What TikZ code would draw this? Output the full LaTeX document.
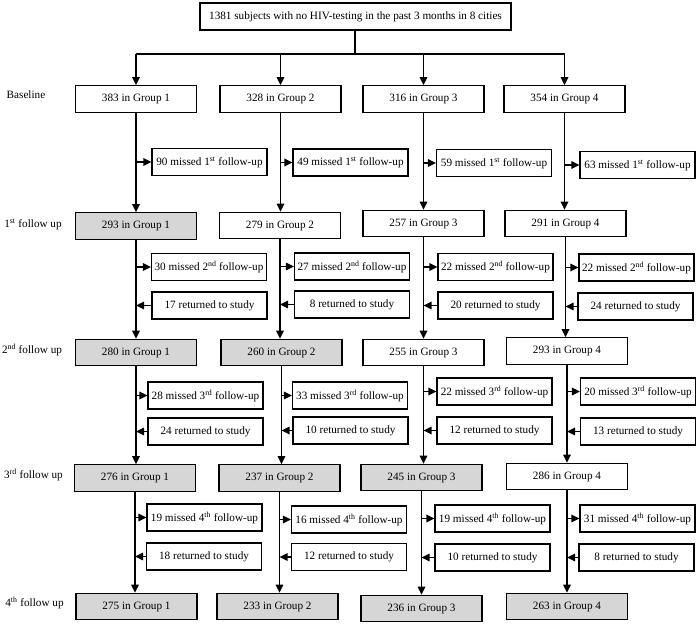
\documentclass[tikz,border=0pt]{standalone}
\usepackage{fontspec}
\setmainfont{Liberation Serif}
\usetikzlibrary{arrows.meta}
\definecolor{boxgrey}{RGB}{214,214,214}
\begin{document}
\begin{tikzpicture}[x=1pt,y=-1pt,
  font=\fontsize{11.2pt}{13pt}\selectfont,
  gbox/.style={draw, line width=1.2pt, inner sep=0pt, minimum width=121pt, minimum height=26.5pt},
  sbox/.style={draw, line width=1.2pt, inner sep=0pt, minimum width=115pt, minimum height=27pt},
  gfill/.style={gbox, fill=boxgrey},
  conn/.style={line width=1.6pt},
  arr/.style={line width=1.6pt, -{Triangle[length=8pt,width=7.5pt]}},
  lab/.style={inner sep=0pt}]
\useasboundingbox (0,0) rectangle (700,626);
% top
\node[draw, line width=1.2pt, inner sep=0pt, minimum width=311pt, minimum height=27pt] (top) at (355.5,16.5) {1381 subjects with no HIV-testing in the past 3 months in 8 cities};
% left labels
\node[lab] (l0) at (26,95) {Baseline};
\node[lab] (l1) at (33,224) {1\textsuperscript{st} follow up};
\node[lab] (l2) at (32,350) {2\textsuperscript{nd} follow up};
\node[lab] (l3) at (33.5,475) {3\textsuperscript{rd} follow up};
\node[lab] (l4) at (34.5,603) {4\textsuperscript{th} follow up};
% baseline
\node[gbox] (b1) at (136,99) {383 in Group 1};
\node[gbox] (b2) at (280.5,99) {328 in Group 2};
\node[gbox] (b3) at (423.5,99) {316 in Group 3};
\node[gbox] (b4) at (564.5,99) {354 in Group 4};
% missed 1st
\node[sbox] (m11) at (209.5,162) {90 missed 1\textsuperscript{st} follow-up};
\node[sbox] (m12) at (350.5,162.5) {49 missed 1\textsuperscript{st} follow-up};
\node[sbox] (m13) at (494,163) {59 missed 1\textsuperscript{st} follow-up};
\node[sbox] (m14) at (637.5,165) {63 missed 1\textsuperscript{st} follow-up};
% 1st FU
\node[gfill] (f11) at (136,226) {293 in Group 1};
\node[gbox] (f12) at (280,225.5) {279 in Group 2};
\node[gbox] (f13) at (423.5,223.5) {257 in Group 3};
\node[gbox] (f14) at (565.5,223.5) {291 in Group 4};
% missed 2nd
\node[sbox] (m21) at (209,267) {30 missed 2\textsuperscript{nd} follow-up};
\node[sbox] (m22) at (352,266.5) {27 missed 2\textsuperscript{nd} follow-up};
\node[sbox] (m23) at (495.5,267) {22 missed 2\textsuperscript{nd} follow-up};
\node[sbox] (m24) at (636.5,267.5) {22 missed 2\textsuperscript{nd} follow-up};
% returned 2nd
\node[sbox] (r21) at (209.5,305.5) {17 returned to study};
\node[sbox] (r22) at (352,304.5) {8 returned to study};
\node[sbox] (r23) at (495.5,305.5) {20 returned to study};
\node[sbox] (r24) at (635.5,306.5) {24 returned to study};
% 2nd FU
\node[gfill] (f21) at (136,352.5) {280 in Group 1};
\node[gfill] (f22) at (281.5,352.5) {260 in Group 2};
\node[gbox] (f23) at (423.5,352.5) {255 in Group 3};
\node[gbox] (f24) at (567,351) {293 in Group 4};
% missed 3rd
\node[sbox] (m31) at (205.5,395.5) {28 missed 3\textsuperscript{rd} follow-up};
\node[sbox] (m32) at (350,395.5) {33 missed 3\textsuperscript{rd} follow-up};
\node[sbox] (m33) at (494.5,391.5) {22 missed 3\textsuperscript{rd} follow-up};
\node[sbox] (m34) at (638,391.5) {20 missed 3\textsuperscript{rd} follow-up};
% returned 3rd
\node[sbox] (r31) at (205.5,431.5) {24 returned to study};
\node[sbox] (r32) at (350.5,430.5) {10 returned to study};
\node[sbox] (r33) at (494.5,430.5) {12 returned to study};
\node[sbox] (r34) at (638,431.5) {13 returned to study};
% 3rd FU
\node[gfill] (f31) at (135,478) {276 in Group 1};
\node[gfill] (f32) at (279.5,478) {237 in Group 2};
\node[gfill] (f33) at (421.5,477.5) {245 in Group 3};
\node[gbox] (f34) at (567,476.5) {286 in Group 4};
% missed 4th
\node[sbox] (m41) at (204.5,517.5) {19 missed 4\textsuperscript{th} follow-up};
\node[sbox] (m42) at (349,519.5) {16 missed 4\textsuperscript{th} follow-up};
\node[sbox] (m43) at (492.5,518.5) {19 missed 4\textsuperscript{th} follow-up};
\node[sbox] (m44) at (637.5,518.5) {31 missed 4\textsuperscript{th} follow-up};
% returned 4th
\node[sbox] (r41) at (204,556.5) {18 returned to study};
\node[sbox] (r42) at (349,557) {12 returned to study};
\node[sbox] (r43) at (492.5,557.5) {10 returned to study};
\node[sbox] (r44) at (636.5,557.5) {8 returned to study};
% 4th FU
\node[gfill] (f41) at (136.5,606.5) {275 in Group 1};
\node[gfill] (f42) at (277.5,606.5) {233 in Group 2};
\node[gfill] (f43) at (421.5,608.5) {236 in Group 3};
\node[gfill] (f44) at (567,606.5) {263 in Group 4};
% top distribution
\coordinate (hub) at (355,54);
\draw[conn] (top.south -| hub) -- (hub);
\draw[conn] (b1.north |- hub) -- (b4.north |- hub);
\foreach \g in {1,2,3,4} {
  \draw[arr] (b\g.north |- hub) -- (b\g.north);
}
% vertical flows and side arrows
\foreach \g in {1,2,3,4} {
  \draw[arr] (b\g.south) -- (b\g.south |- f1\g.north);
  \draw[arr] (b\g.south |- m1\g.west) -- (m1\g.west);
  \draw[arr] (f1\g.south) -- (f1\g.south |- f2\g.north);
  \draw[arr] (f1\g.south |- m2\g.west) -- (m2\g.west);
  \draw[arr] (r2\g.west) -- (f1\g.south |- r2\g.west);
  \draw[arr] (f2\g.south) -- (f2\g.south |- f3\g.north);
  \draw[arr] (f2\g.south |- m3\g.west) -- (m3\g.west);
  \draw[arr] (r3\g.west) -- (f2\g.south |- r3\g.west);
  \draw[arr] (f3\g.south) -- (f3\g.south |- f4\g.north);
  \draw[arr] (f3\g.south |- m4\g.west) -- (m4\g.west);
  \draw[arr] (r4\g.west) -- (f3\g.south |- r4\g.west);
}
\end{tikzpicture}
\end{document}
